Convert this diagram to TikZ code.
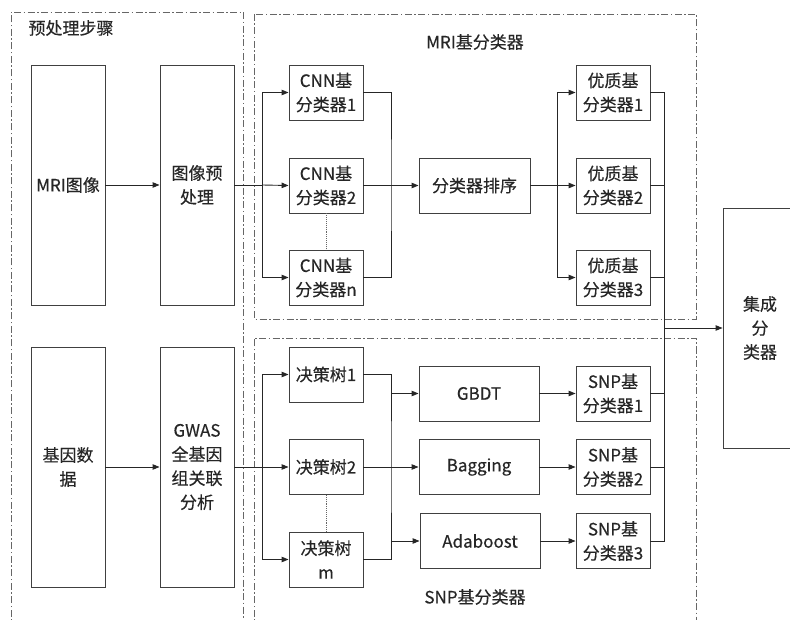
\documentclass[tikz,border=0pt]{standalone}
\usepackage{fontspec}
\setmainfont{Noto Sans CJK SC}[FakeBold=0.35]
\usetikzlibrary{arrows.meta}

\begin{document}
\begin{tikzpicture}[x=1pt,y=-1pt,
    box/.style={draw=black!75, line width=0.9pt, minimum width=74pt, minimum height=55pt,
      inner sep=1pt, align=center, font=\fontsize{17}{24}\selectfont, text=black!85},
    tall/.style={box, minimum height=240pt},
    wide/.style={box, minimum width=120pt},
    frame/.style={draw=black!60, line width=0.8pt, dash pattern=on 7pt off 2.5pt on 1.5pt off 2.5pt},
    title/.style={font=\fontsize{17}{24}\selectfont, text=black!85},
    conn/.style={draw=black!85, line width=0.9pt},
    arr/.style={conn, -{Triangle[length=7pt,width=5.5pt]}}]
          \useasboundingbox (0,0) rectangle (790,620);

          % dash-dot frames
          \draw[frame] (11,630) -- (11,12) -- (243,12) -- (243,630);
          \draw[frame] (254,14) rectangle (696,319);
          \draw[frame] (254,630) -- (254,338) -- (696,338) -- (696,630);

          \node[title] (tpre) at (71,28) {预处理步骤};
          \node[title] (tmri) at (475,42) {MRI基分类器};
          \node[title] (tsnp) at (475,597) {SNP基分类器};

          % preprocessing
          \node[tall] (mri) at (68,185) {MRI图像};
          \node[tall] (pre) at (197,185) {图像预\\处理};
          \node[tall] (gene) at (68,467) {基因数\\据};
          \node[tall] (gwas) at (197,467) {GWAS\\全基因\\组关联\\分析};

          % MRI branch
          \node[box] (cnn1) at (326,92.5) {CNN基\\分类器1};
          \node[box] (cnn2) at (326,185.5) {CNN基\\分类器2};
          \node[box] (cnnn) at (326,277.5) {CNN基\\分类器n};
          \node[box, minimum width=111pt] (sort) at (474.5,185.5) {分类器排序};
          \node[box] (good1) at (613,92.5) {优质基\\分类器1};
          \node[box] (good2) at (613,185.5) {优质基\\分类器2};
          \node[box] (good3) at (613,277.5) {优质基\\分类器3};

          % SNP branch
          \node[box] (tree1) at (326,374.5) {决策树1};
          \node[box] (tree2) at (326,467) {决策树2};
          \node[box] (treem) at (326,559.5) {决策树\\m};
          \node[wide] (gbdt) at (479,393.5) {GBDT};
          \node[wide] (bag) at (479,467) {Bagging};
          \node[wide] (ada) at (480,541) {Adaboost};
          \node[box] (snp1) at (613,393.5) {SNP基\\分类器1};
          \node[box] (snp2) at (613,467) {SNP基\\分类器2};
          \node[box] (snp3) at (613,541) {SNP基\\分类器3};

          \node[tall] (ens) at (760,328) {集成\\分\\类器};

          \coordinate (sp1) at (262,185);
          \coordinate (mg1) at (391,185.5);
          \coordinate (sp2) at (557,185.5);
          \coordinate (mg2) at (664,328);
          \coordinate (sp3) at (262,467);
          \coordinate (mg3) at (391,467);

          \draw[arr] (mri) -- (pre);
          \draw[arr] (gene) -- (gwas);

          \draw[conn] (pre.east) -- (sp1);
          \draw[arr] (sp1) |- (cnn1.west);
          \draw[arr] (sp1) -- (cnn2.west);
          \draw[arr] (sp1) |- (cnnn.west);
          \draw[conn] (cnn1.east) -| (mg1) |- (cnnn.east);
          \draw[arr] (cnn2.east) -- (sort.west);
          \draw[conn] (sort.east) -- (sp2);
          \draw[arr] (sp2) |- (good1.west);
          \draw[arr] (sp2) -- (good2.west);
          \draw[arr] (sp2) |- (good3.west);
          \draw[conn] (good1.east) -| (mg2) |- (snp3.east);
          \draw[conn] (good2.east) -| (mg2);
          \draw[conn] (good3.east) -| (mg2);
          \draw[conn] (snp1.east) -| (mg2);
          \draw[conn] (snp2.east) -| (mg2);
          \draw[arr] (mg2) -- (ens.west);

          \draw[conn] (gwas.east) -- (sp3);
          \draw[arr] (sp3) |- (tree1.west);
          \draw[arr] (sp3) -- (tree2.west);
          \draw[arr] (sp3) |- (treem.west);
          \draw[conn] (tree1.east) -| (mg3) |- (treem.east);
          \draw[arr] (tree2.east) -- (bag.west);
          \draw[arr] (mg3 |- gbdt.west) -- (gbdt.west);
          \draw[arr] (mg3 |- ada.west) -- (ada.west);
          \draw[arr] (gbdt) -- (snp1);
          \draw[arr] (bag) -- (snp2);
          \draw[arr] (ada) -- (snp3);

          \draw[conn, densely dotted, draw=black!60] (cnn2.south) -- (cnnn.north);
          \draw[conn, densely dotted, draw=black!60] (tree2.south) -- (treem.north);
        \end{tikzpicture}
\end{document}
